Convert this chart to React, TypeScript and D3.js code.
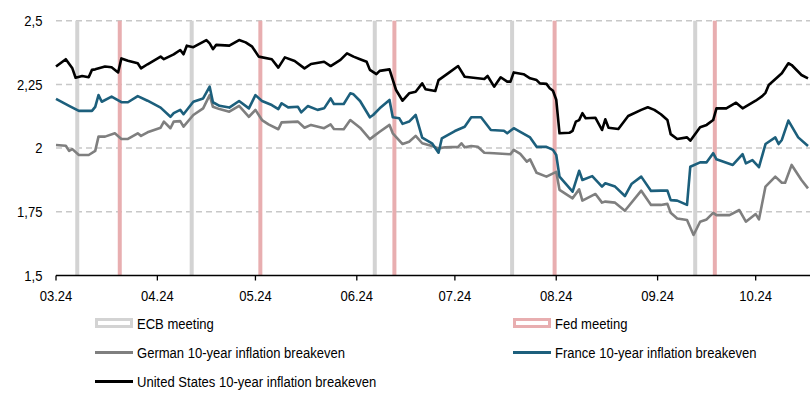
import React from "react";
import * as d3 from "d3";

const W = 810;
const H = 394;

// y axis
const yTicks = [1.5, 1.75, 2, 2.25, 2.5];
const yTickLabels = ["1,5", "1,75", "2", "2,25", "2,5"];

// x axis (month starts)
const monthTicks = ["2024-03-01", "2024-04-01", "2024-05-01", "2024-06-01", "2024-07-01", "2024-08-01", "2024-09-01", "2024-10-01"];
const monthLabels = ["03.24", "04.24", "05.24", "06.24", "07.24", "08.24", "09.24", "10.24"];

const ecbMeetings = ["2024-03-07", "2024-04-11", "2024-06-06", "2024-07-18", "2024-09-12"];
const fedMeetings = ["2024-03-20", "2024-05-02", "2024-06-12", "2024-07-31", "2024-09-18"];

const usBreakeven: [string, number][] = [
  ["2024-03-01", 2.32], ["2024-03-04", 2.349], ["2024-03-06", 2.313], ["2024-03-07", 2.276], ["2024-03-09", 2.283],
  ["2024-03-11", 2.278], ["2024-03-12", 2.307], ["2024-03-13", 2.309], ["2024-03-16", 2.32], ["2024-03-18", 2.317],
  ["2024-03-20", 2.297], ["2024-03-21", 2.352], ["2024-03-23", 2.343], ["2024-03-26", 2.333], ["2024-03-27", 2.313],
  ["2024-03-29", 2.329], ["2024-04-02", 2.359], ["2024-04-03", 2.349], ["2024-04-06", 2.368], ["2024-04-08", 2.385],
  ["2024-04-09", 2.368], ["2024-04-10", 2.402], ["2024-04-12", 2.396], ["2024-04-16", 2.424], ["2024-04-17", 2.411],
  ["2024-04-18", 2.388], ["2024-04-19", 2.405], ["2024-04-23", 2.402], ["2024-04-26", 2.424], ["2024-04-28", 2.415],
  ["2024-04-30", 2.398], ["2024-05-02", 2.359], ["2024-05-06", 2.349], ["2024-05-08", 2.316], ["2024-05-10", 2.356],
  ["2024-05-13", 2.342], ["2024-05-16", 2.313], ["2024-05-18", 2.33], ["2024-05-22", 2.339], ["2024-05-24", 2.322],
  ["2024-05-27", 2.346], ["2024-05-29", 2.372], ["2024-05-31", 2.359], ["2024-06-02", 2.349], ["2024-06-04", 2.339],
  ["2024-06-05", 2.307], ["2024-06-07", 2.29], ["2024-06-08", 2.303], ["2024-06-11", 2.309], ["2024-06-13", 2.228],
  ["2024-06-15", 2.186], ["2024-06-17", 2.215], ["2024-06-19", 2.221], ["2024-06-21", 2.254], ["2024-06-22", 2.231],
  ["2024-06-25", 2.224], ["2024-06-26", 2.267], ["2024-06-29", 2.294], ["2024-07-02", 2.322], ["2024-07-04", 2.28],
  ["2024-07-10", 2.271], ["2024-07-11", 2.283], ["2024-07-13", 2.241], ["2024-07-15", 2.278], ["2024-07-17", 2.261],
  ["2024-07-18", 2.261], ["2024-07-19", 2.297], ["2024-07-22", 2.29], ["2024-07-24", 2.274], ["2024-07-26", 2.267],
  ["2024-07-27", 2.254], ["2024-07-29", 2.252], ["2024-07-30", 2.235], ["2024-07-31", 2.225], ["2024-08-01", 2.19],
  ["2024-08-02", 2.058], ["2024-08-05", 2.06], ["2024-08-06", 2.068], ["2024-08-07", 2.104], ["2024-08-08", 2.11],
  ["2024-08-09", 2.137], ["2024-08-10", 2.117], ["2024-08-13", 2.119], ["2024-08-15", 2.071], ["2024-08-16", 2.113],
  ["2024-08-17", 2.08], ["2024-08-20", 2.075], ["2024-08-23", 2.126], ["2024-08-27", 2.15], ["2024-08-29", 2.16],
  ["2024-08-31", 2.15], ["2024-09-02", 2.133], ["2024-09-04", 2.11], ["2024-09-05", 2.055], ["2024-09-07", 2.036],
  ["2024-09-10", 2.042], ["2024-09-11", 2.029], ["2024-09-14", 2.082], ["2024-09-16", 2.091], ["2024-09-18", 2.11],
  ["2024-09-19", 2.156], ["2024-09-22", 2.156], ["2024-09-25", 2.178], ["2024-09-27", 2.156], ["2024-10-01", 2.186],
  ["2024-10-03", 2.204], ["2024-10-04", 2.217], ["2024-10-05", 2.248], ["2024-10-09", 2.294], ["2024-10-11", 2.333],
  ["2024-10-12", 2.326], ["2024-10-15", 2.287], ["2024-10-17", 2.274],
];

const franceBreakeven: [string, number][] = [
  ["2024-03-01", 2.193], ["2024-03-05", 2.166], ["2024-03-08", 2.146], ["2024-03-12", 2.146], ["2024-03-13", 2.162],
  ["2024-03-14", 2.208], ["2024-03-15", 2.182], ["2024-03-18", 2.202], ["2024-03-21", 2.18], ["2024-03-23", 2.18],
  ["2024-03-26", 2.204], ["2024-03-29", 2.186], ["2024-04-02", 2.159], ["2024-04-05", 2.123], ["2024-04-06", 2.137],
  ["2024-04-08", 2.15], ["2024-04-09", 2.133], ["2024-04-12", 2.182], ["2024-04-15", 2.195], ["2024-04-17", 2.241],
  ["2024-04-18", 2.18], ["2024-04-20", 2.166], ["2024-04-23", 2.159], ["2024-04-26", 2.185], ["2024-04-29", 2.156],
  ["2024-05-01", 2.208], ["2024-05-03", 2.185], ["2024-05-06", 2.169], ["2024-05-08", 2.153], ["2024-05-09", 2.176],
  ["2024-05-11", 2.16], ["2024-05-14", 2.162], ["2024-05-15", 2.14], ["2024-05-17", 2.165], ["2024-05-20", 2.15],
  ["2024-05-22", 2.156], ["2024-05-24", 2.195], ["2024-05-25", 2.173], ["2024-05-28", 2.173], ["2024-05-30", 2.215],
  ["2024-05-31", 2.211], ["2024-06-02", 2.185], ["2024-06-05", 2.121], ["2024-06-06", 2.13], ["2024-06-08", 2.156],
  ["2024-06-11", 2.189], ["2024-06-12", 2.121], ["2024-06-14", 2.117], ["2024-06-15", 2.095], ["2024-06-17", 2.104],
  ["2024-06-19", 2.13], ["2024-06-21", 2.041], ["2024-06-24", 2.019], ["2024-06-26", 1.982], ["2024-06-27", 2.038],
  ["2024-07-01", 2.067], ["2024-07-04", 2.084], ["2024-07-06", 2.121], ["2024-07-09", 2.121], ["2024-07-12", 2.071],
  ["2024-07-16", 2.068], ["2024-07-17", 2.058], ["2024-07-19", 2.078], ["2024-07-21", 2.064], ["2024-07-24", 2.042],
  ["2024-07-26", 2.005], ["2024-07-29", 2.005], ["2024-07-31", 1.993], ["2024-08-01", 1.973], ["2024-08-02", 1.888],
  ["2024-08-06", 1.829], ["2024-08-08", 1.911], ["2024-08-09", 1.875], ["2024-08-12", 1.89], ["2024-08-15", 1.849],
  ["2024-08-16", 1.862], ["2024-08-19", 1.849], ["2024-08-22", 1.812], ["2024-08-24", 1.859], ["2024-08-27", 1.888],
  ["2024-08-30", 1.832], ["2024-09-02", 1.833], ["2024-09-04", 1.833], ["2024-09-05", 1.796], ["2024-09-07", 1.794],
  ["2024-09-10", 1.777], ["2024-09-11", 1.927], ["2024-09-14", 1.944], ["2024-09-16", 1.944], ["2024-09-18", 1.98],
  ["2024-09-19", 1.956], ["2024-09-24", 1.934], ["2024-09-27", 1.976], ["2024-09-28", 1.94], ["2024-09-30", 1.953],
  ["2024-10-02", 1.925], ["2024-10-04", 2.016], ["2024-10-07", 2.042], ["2024-10-08", 2.016], ["2024-10-09", 2.032],
  ["2024-10-11", 2.108], ["2024-10-14", 2.042], ["2024-10-17", 2.008],
];

const germanBreakeven: [string, number][] = [
  ["2024-03-01", 2.012], ["2024-03-04", 2.009], ["2024-03-05", 1.989], ["2024-03-06", 1.996], ["2024-03-08", 1.973],
  ["2024-03-11", 1.973], ["2024-03-13", 1.989], ["2024-03-14", 2.045], ["2024-03-16", 2.045], ["2024-03-19", 2.058],
  ["2024-03-21", 2.036], ["2024-03-23", 2.036], ["2024-03-26", 2.058], ["2024-03-27", 2.048], ["2024-03-29", 2.062],
  ["2024-04-02", 2.08], ["2024-04-03", 2.104], ["2024-04-05", 2.078], ["2024-04-06", 2.104], ["2024-04-08", 2.106],
  ["2024-04-09", 2.084], ["2024-04-12", 2.13], ["2024-04-15", 2.156], ["2024-04-17", 2.208], ["2024-04-18", 2.162],
  ["2024-04-20", 2.153], ["2024-04-23", 2.143], ["2024-04-26", 2.166], ["2024-04-29", 2.123], ["2024-05-01", 2.15],
  ["2024-05-03", 2.11], ["2024-05-05", 2.093], ["2024-05-08", 2.074], ["2024-05-09", 2.101], ["2024-05-14", 2.104],
  ["2024-05-16", 2.08], ["2024-05-18", 2.091], ["2024-05-22", 2.078], ["2024-05-24", 2.093], ["2024-05-25", 2.075],
  ["2024-05-28", 2.074], ["2024-05-30", 2.11], ["2024-06-02", 2.08], ["2024-06-05", 2.035], ["2024-06-06", 2.045],
  ["2024-06-08", 2.064], ["2024-06-11", 2.091], ["2024-06-12", 2.058], ["2024-06-15", 2.016], ["2024-06-17", 2.025],
  ["2024-06-19", 2.048], ["2024-06-21", 2.019], ["2024-06-24", 2.008], ["2024-06-26", 1.999], ["2024-06-28", 2.003],
  ["2024-07-02", 2.005], ["2024-07-03", 2.019], ["2024-07-04", 2.003], ["2024-07-06", 2.008], ["2024-07-08", 2.005],
  ["2024-07-10", 1.982], ["2024-07-13", 1.98], ["2024-07-18", 1.976], ["2024-07-19", 1.993], ["2024-07-21", 1.977],
  ["2024-07-23", 1.947], ["2024-07-24", 1.956], ["2024-07-26", 1.903], ["2024-07-29", 1.888], ["2024-08-01", 1.907],
  ["2024-08-02", 1.836], ["2024-08-06", 1.803], ["2024-08-08", 1.838], ["2024-08-09", 1.794], ["2024-08-13", 1.82],
  ["2024-08-15", 1.786], ["2024-08-16", 1.79], ["2024-08-19", 1.786], ["2024-08-22", 1.754], ["2024-08-27", 1.833],
  ["2024-08-30", 1.777], ["2024-09-02", 1.777], ["2024-09-04", 1.781], ["2024-09-05", 1.746], ["2024-09-07", 1.724],
  ["2024-09-10", 1.718], ["2024-09-12", 1.659], ["2024-09-14", 1.711], ["2024-09-16", 1.72], ["2024-09-18", 1.746],
  ["2024-09-19", 1.737], ["2024-09-23", 1.737], ["2024-09-26", 1.757], ["2024-09-28", 1.711], ["2024-10-01", 1.741],
  ["2024-10-02", 1.72], ["2024-10-04", 1.849], ["2024-10-07", 1.888], ["2024-10-09", 1.864], ["2024-10-10", 1.864],
  ["2024-10-12", 1.934], ["2024-10-15", 1.875], ["2024-10-17", 1.842],
];

const FONT = "'Liberation Sans', Arial, sans-serif";
const SQUEEZE = 0.87; // condensed look of the original font

const parse = d3.timeParse("%Y-%m-%d");

const App = () => {
  const plotLeft = 56;
  const plotRight = 808;
  const plotTop = 20.7;
  const plotBottom = 275.5;

  const x = d3
    .scaleTime()
    .domain([parse("2024-03-01")!, parse("2024-10-17")!])
    .range([plotLeft, plotRight]);
  const y = d3.scaleLinear().domain([1.5, 2.5]).range([plotBottom, plotTop]);

  const halfDay = (x(parse("2024-03-02")!) - x(parse("2024-03-01")!)) / 2;

  const line = d3
    .line<[string, number]>()
    .x((d) => x(parse(d[0])!))
    .y((d) => y(d[1]));

  const series = [
    { data: germanBreakeven, color: "#7f7f7f" },
    { data: franceBreakeven, color: "#1c5f7c" },
    { data: usBreakeven, color: "#000000" },
  ];

  const label = (tx: number, ty: number, text: string, anchor: string) => (
    <text
      key={text + tx + ty}
      transform={`translate(${tx},${ty}) scale(${SQUEEZE},1)`}
      textAnchor={anchor}
      dominantBaseline="central"
      fontFamily={FONT}
      fontSize={15}
      fill="#000"
    >
      {text}
    </text>
  );

  return (
    <svg
      width={W}
      height={H}
      style={{ position: "absolute", left: 0, top: 0, background: "#fff" }}
    >
      {/* gridlines */}
      {yTicks.slice(1).map((t) => (
        <line
          key={t}
          x1={plotLeft}
          x2={W}
          y1={y(t)}
          y2={y(t)}
          stroke="#c8c8c8"
          strokeWidth={1.5}
          strokeDasharray="6,4"
        />
      ))}

      {/* meeting bars */}
      {ecbMeetings.map((d) => (
        <rect
          key={"ecb" + d}
          x={x(parse(d)!) + halfDay - 2}
          y={plotTop}
          width={4}
          height={plotBottom - plotTop}
          fill="#d3d3d3"
        />
      ))}
      {fedMeetings.map((d) => (
        <rect
          key={"fed" + d}
          x={x(parse(d)!) + halfDay - 2}
          y={plotTop}
          width={4}
          height={plotBottom - plotTop}
          fill="#e8aeb0"
        />
      ))}

      {/* series */}
      {series.map((s, i) => (
        <path
          key={i}
          d={line(s.data) || ""}
          fill="none"
          stroke={s.color}
          strokeWidth={2.6}
          strokeLinejoin="round"
        />
      ))}

      {/* x axis */}
      <line x1={plotLeft} x2={W} y1={plotBottom} y2={plotBottom} stroke="#000" strokeWidth={1.5} />
      {monthTicks.map((m) => (
        <line
          key={m}
          x1={x(parse(m)!)}
          x2={x(parse(m)!)}
          y1={plotBottom}
          y2={plotBottom + 5}
          stroke="#000"
          strokeWidth={1.3}
        />
      ))}
      {monthTicks.map((m, i) => label(x(parse(m)!), 296, monthLabels[i], "middle"))}

      {/* y labels */}
      {yTicks.map((t, i) => label(42.5, y(t), yTickLabels[i], "end"))}

      {/* legend */}
      <rect x={96.5} y={319.5} width={35} height={7} fill="#fff" stroke="#d3d3d3" strokeWidth={3} />
      {label(137, 323.5, "ECB meeting", "start")}
      <rect x={514.5} y={319.5} width={35} height={7} fill="#fff" stroke="#e8aeb0" strokeWidth={3} />
      {label(555, 323.5, "Fed meeting", "start")}
      <line x1={95} x2={133} y1={352.5} y2={352.5} stroke="#7f7f7f" strokeWidth={3} />
      {label(137, 352.5, "German 10-year inflation breakeven", "start")}
      <line x1={513} x2={551} y1={352.5} y2={352.5} stroke="#1c5f7c" strokeWidth={3} />
      {label(555, 352.5, "France 10-year inflation breakeven", "start")}
      <line x1={95} x2={133} y1={381.5} y2={381.5} stroke="#000" strokeWidth={3} />
      {label(137, 381.5, "United States 10-year inflation breakeven", "start")}
    </svg>
  );
};

export default App;
